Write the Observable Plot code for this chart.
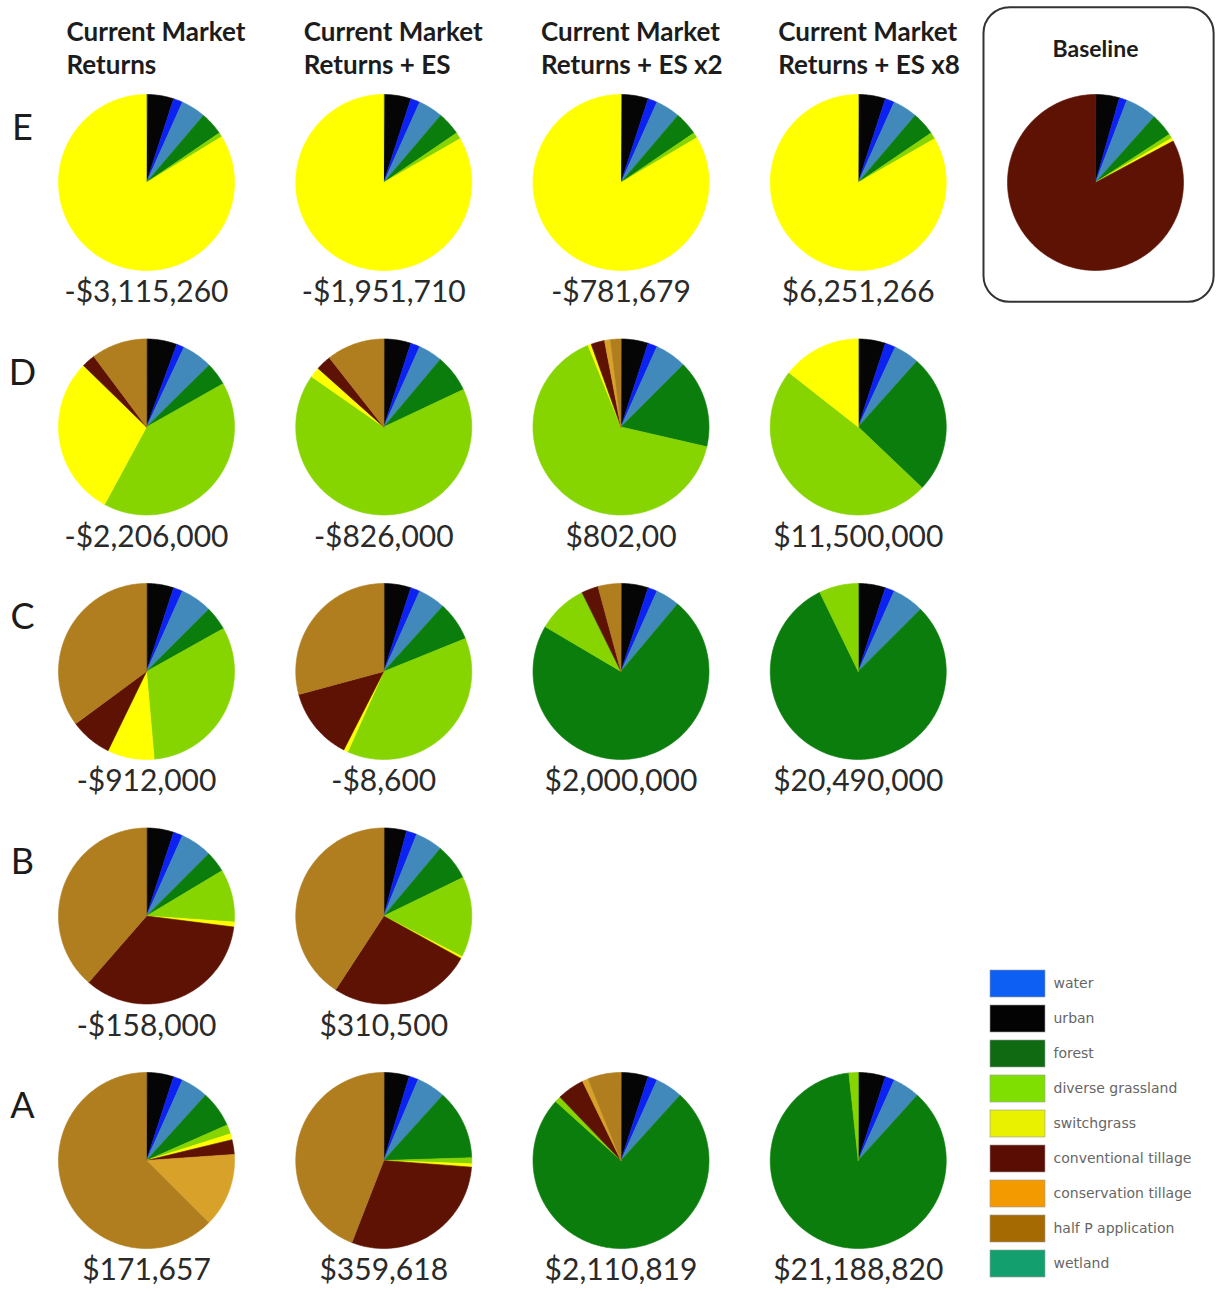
<!DOCTYPE html>
<html>
<head>
<meta charset="utf-8">
<script src="https://cdn.jsdelivr.net/npm/d3@7"></script>
<script src="https://cdn.jsdelivr.net/npm/@observablehq/plot@0.6"></script>
<style>
  body { margin: 0; background: #fff; }
  #wrap { position: relative; width: 1229px; height: 1291px; }
  #legend { position: absolute; left: 985px; top: 959px; }
</style>
</head>
<body>
<div id="wrap"><div id="main"></div><div id="legend"></div></div>
<script>
// ---- data ----
const rowLabels = ["E", "D", "C", "B", "A"];
const scenarios = [
  "Current Market\nReturns",
  "Current Market\nReturns + ES",
  "Current Market\nReturns + ES x2",
  "Current Market\nReturns + ES x8",
  "Baseline"
];
// slice order, clockwise from 12 o'clock
const landUses = ["urban", "water", "wetland", "forest", "diverse grassland", "switchgrass",
  "conventional tillage", "conservation tillage", "half P application"];
const pieColors = ["#050505", "#0b22f2", "#4189bb", "#0b7d0d", "#86d400", "#ffff00",
  "#5e1204", "#d8a12a", "#b07e1f"];

const legendOrder = ["water", "urban", "forest", "diverse grassland", "switchgrass",
  "conventional tillage", "conservation tillage", "half P application", "wetland"];
const legendColors = ["#0d5ef2", "#030303", "#0f6a12", "#7fe000", "#e9f000",
  "#5a0d03", "#f39a00", "#a56a02", "#14a06e"];

// one entry per pie
const pieRow = ["E","E","E","E","E", "D","D","D","D", "C","C","C","C", "B","B", "A","A","A","A"];
const pieCol = [0,1,2,3,4, 0,1,2,3, 0,1,2,3, 0,1, 0,1,2,3];
const netReturns = ["-$3,115,260", "-$1,951,710", "-$781,679", "$6,251,266", "",
  "-$2,206,000", "-$826,000", "$802,00", "$11,500,000",
  "-$912,000", "-$8,600", "$2,000,000", "$20,490,000",
  "-$158,000", "$310,500",
  "$171,657", "$359,618", "$2,110,819", "$21,188,820"];
// land-use shares (%) in landUses order
const shares = [
  [5.0, 1.7, 4.5, 4.3, 0.8, 83.7, 0, 0, 0],
  [5.0, 1.7, 4.5, 4.3, 1.2, 83.3, 0, 0, 0],
  [5.0, 1.7, 4.5, 4.3, 1.0, 83.5, 0, 0, 0],
  [5.0, 1.7, 4.5, 4.3, 1.2, 83.3, 0, 0, 0],
  [4.4, 1.4, 5.8, 4.2, 0.8, 0.6, 82.8, 0, 0],
  [5.6, 1.4, 5.6, 4.2, 41.1, 29.4, 2.5, 0, 10.2],
  [5.0, 1.7, 4.4, 6.9, 66.7, 1.9, 2.8, 0, 10.6],
  [5.0, 1.7, 5.8, 16.1, 65.3, 0.6, 2.5, 1.1, 1.9],
  [5.0, 1.9, 4.7, 25.5, 48.5, 14.4, 0, 0, 0],
  [5.0, 1.7, 5.8, 4.4, 31.7, 8.6, 7.7, 0, 35.1],
  [5.0, 1.7, 5.0, 7.2, 37.8, 0.8, 13.3, 0, 29.2],
  [5.0, 1.7, 4.4, 72.4, 9.2, 0, 3.1, 0, 4.2],
  [5.0, 1.7, 5.8, 80.3, 7.2, 0, 0, 0, 0],
  [5.0, 1.7, 5.8, 3.9, 9.7, 0.9, 34.4, 0, 38.6],
  [4.2, 1.9, 5.0, 6.7, 14.8, 0.4, 26.2, 0, 40.8],
  [5.0, 1.7, 5.0, 6.7, 1.7, 1.1, 2.7, 13.6, 62.5],
  [4.7, 1.7, 5.3, 12.8, 1.1, 0.6, 29.7, 0, 44.1],
  [5.0, 1.7, 5.0, 75.0, 1.1, 0, 5.0, 1.1, 6.1],
  [5.0, 1.7, 5.0, 86.6, 1.7, 0, 0, 0, 0]
];

// ---- layout (pixels) ----
const W = 1229, H = 1291;
const xRange = [146, 1095], yRange = [182, 1160];
const R = 88; // pie radius px
const ux = (xRange[1] - xRange[0]) / 4, uy = (yRange[1] - yRange[0]) / 4;
const rx = R / ux, ry = R / uy;

// ---- build slice polygons from shares ----
const pie = d3.pie().sort(null).value(d => d);
const slicePts = [];
shares.forEach((vals, i) => {
  const col = pieCol[i], row = rowLabels.indexOf(pieRow[i]);
  pie(vals).forEach((arc, j) => {
    if (!(vals[j] > 0)) return;
    const id = i + "-" + j, use = landUses[j];
    slicePts.push({id, use, col, row, a: 0, r: 0});
    const n = Math.max(2, Math.ceil((arc.endAngle - arc.startAngle) / (Math.PI / 180)));
    for (let k = 0; k <= n; k++) {
      const a = arc.startAngle + (arc.endAngle - arc.startAngle) * k / n;
      slicePts.push({id, use, col, row, a, r: 1});
    }
  });
});
const pies = pieRow.map((r, i) => ({row: rowLabels.indexOf(r), col: pieCol[i], label: netReturns[i]}));
const baselineIdx = scenarios.indexOf("Baseline");

const chart = Plot.plot({
  width: W, height: H,
  margin: 0,
  style: {fontFamily: "Lato, sans-serif", background: "#fff"},
  x: {domain: [0, 4], range: xRange, axis: null},
  y: {domain: [0, 4], range: yRange, axis: null},
  color: {domain: landUses, range: pieColors},
  marks: [
    // baseline frame
    Plot.rect([{col: baselineIdx, row: 0}], {
      x1: d => d.col - 0.47, x2: d => d.col + 0.5,
      y1: d => d.row - 0.715, y2: d => d.row + 0.49,
      rx: 26, fill: "none", stroke: "#333", strokeWidth: 2
    }),
    // pie slices
    Plot.line(slicePts, {
      x: d => d.col + d.r * rx * Math.sin(d.a),
      y: d => d.row - d.r * ry * Math.cos(d.a),
      z: "id", fill: "use", stroke: "use", strokeWidth: 0.6, curve: "linear-closed"
    }),
    // column headers
    Plot.text(scenarios.slice(0, 4), {
      x: (d, i) => i, frameAnchor: "top", dy: 16, dx: -80,
      textAnchor: "start", lineAnchor: "top", lineHeight: 1.3,
      fontSize: 26, fontWeight: "bold", fill: "#1c1c1c"
    }),
    Plot.text([scenarios[baselineIdx]], {
      x: () => baselineIdx, frameAnchor: "top", dy: 40,
      fontSize: 23, fontWeight: "bold", fill: "#1c1c1c"
    }),
    // row labels
    Plot.text(rowLabels, {
      y: (d, i) => i, frameAnchor: "left", dx: 22, dy: -54,
      textAnchor: "middle", fontSize: 36, fill: "#1c1c1c"
    }),
    // net return labels
    Plot.text(pies.filter(d => d.label), {
      x: "col", y: "row", text: "label", dy: 110,
      fontSize: 30, fill: "#2a2a2a"
    })
  ]
});
document.getElementById("main").appendChild(chart);

const legend = Plot.plot({
  width: 240, height: 329, margin: 0,
  style: {fontFamily: "'DejaVu Sans', sans-serif", background: "transparent"},
  x: {domain: [0, 240], range: [0, 240], axis: null},
  y: {type: "band", domain: legendOrder, padding: 0.22, axis: null},
  color: {domain: legendOrder, range: legendColors},
  marks: [
    Plot.barX(legendOrder, {y: d => d, x1: 5, x2: 60, fill: d => d, stroke: "#999", strokeWidth: 0.6}),
    Plot.text(legendOrder, {y: d => d, x: 68, text: d => d, textAnchor: "start", fontSize: 14, fill: "#666"})
  ]
});
document.getElementById("legend").appendChild(legend);
</script>
</body>
</html>
